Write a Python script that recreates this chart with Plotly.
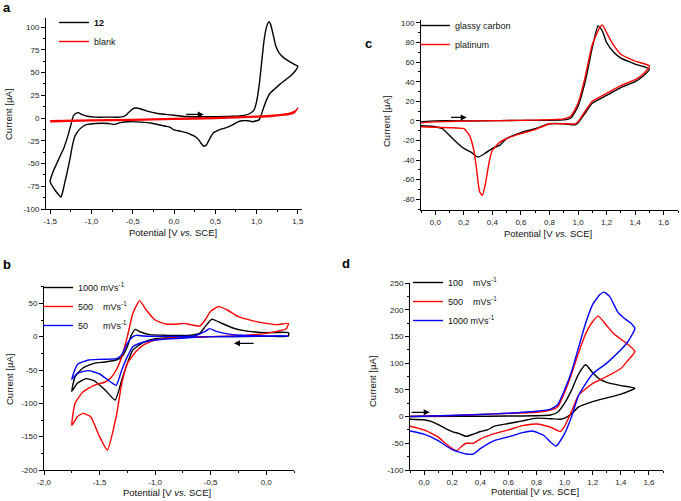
import plotly.graph_objects as go

W, H = 681, 501
FONT = "Liberation Sans, Arial, sans-serif"

# ---------------- Panel a ----------------
a_x_12 = [0.1, 0.3, 0.5, 0.7, 0.85, 0.92, 0.97, 1.0, 1.03, 1.06, 1.09, 1.12, 1.15, 1.17, 1.2, 1.23, 1.27, 1.32, 1.4, 1.46, 1.5,
          1.47, 1.42, 1.35, 1.28, 1.22, 1.16, 1.12, 1.08, 1.05, 1.03, 1.0, 0.95, 0.9, 0.83, 0.78, 0.72, 0.65, 0.58, 0.52, 0.48,
          0.45, 0.42, 0.39, 0.36, 0.33, 0.3, 0.25, 0.2, 0.15, 0.1, 0.05, 0.0, -0.05, -0.1, -0.15, -0.25, -0.4, -0.55, -0.65,
          -0.72, -0.8, -0.95, -1.05, -1.1, -1.15, -1.2, -1.23, -1.26, -1.29, -1.32, -1.35, -1.37, -1.4, -1.45, -1.5,
          -1.46, -1.42, -1.38, -1.33, -1.28, -1.25, -1.22, -1.19, -1.16, -1.12, -1.05, -0.95, -0.8, -0.65, -0.6, -0.55, -0.5,
          -0.46, -0.4, -0.3, -0.2, -0.1, 0.0, 0.1]
a_y_12 = [2, 1.5, 1.5, 2, 3, 5, 9, 18, 35, 60, 85, 100, 106, 103, 92, 80, 72, 67, 62, 59, 57,
          52, 47, 42, 37, 32, 27, 20, 10, 2, -2, -3, -4, -3, -3, -4, -7, -10, -12, -14, -16,
          -20, -25, -30, -31, -28, -24, -20, -18, -16, -15, -14, -13, -10, -9, -8, -6, -4.5, -4, -5,
          -7, -6, -6, -7, -9, -13, -20, -30, -45, -58, -70, -82, -87, -84, -78, -70,
          -58, -50, -42, -32, -18, -8, 2, 5, 6, 4, 2, 1, 1, 1, 2, 6, 10,
          11, 10, 7, 5, 4, 3, 2]
a_x_blank = [-1.5, -1.0, -0.5, 0.0, 0.5, 1.0, 1.2, 1.35, 1.42, 1.47, 1.5, 1.46, 1.4, 1.2, 1.0, 0.5, 0.0, -0.5, -1.0, -1.5]
a_y_blank = [-3, -2, -1.5, -0.5, 0.5, 2, 3, 4.5, 6, 8, 11, 6, 4, 2, 1, -0.5, -1.5, -2.5, -3, -4]

# ---------------- Panel c ----------------
c_x_gc = [-0.1, 0.0, 0.3, 0.6, 0.9, 0.95, 1.0, 1.05, 1.1, 1.14, 1.17, 1.2, 1.25, 1.3, 1.4, 1.5,
          1.45, 1.4, 1.3, 1.2, 1.1, 1.05, 1.0, 0.98, 0.9, 0.8, 0.7, 0.6, 0.5, 0.45, 0.4, 0.35, 0.3,
          0.25, 0.2, 0.15, 0.1, 0.05, 0.0, -0.1]
c_y_gc = [-1, 0, 0, 0.5, 1, 3, 15, 40, 75, 97, 92, 80, 70, 64, 58, 53,
          45, 40, 34, 26, 18, 8, -2, -4, -3, -3, -8, -12, -18, -25, -28, -33, -37,
          -32, -28, -22, -15, -8, -6, -5]
c_x_pt = [-0.1, 0.0, 0.3, 0.6, 0.9, 0.95, 1.0, 1.05, 1.1, 1.15, 1.17, 1.2, 1.25, 1.3, 1.4, 1.5,
          1.45, 1.4, 1.3, 1.2, 1.1, 1.05, 1.0, 0.98, 0.9, 0.8, 0.7, 0.6, 0.5, 0.45, 0.4, 0.38, 0.35,
          0.33, 0.31, 0.29, 0.27, 0.24, 0.2, 0.1, 0.0, -0.1]
c_y_pt = [-2, -1, 0, 0.5, 2, 5, 18, 45, 78, 95, 98, 90, 77, 68, 61, 56,
          47, 42, 36, 28, 20, 10, -1, -3, -3, -3, -9, -13, -18, -22, -30, -40, -65,
          -76, -72, -50, -30, -15, -8, -7, -6.5, -6]

# ---------------- Panel b ----------------
b_x_1000 = [0.2, 0.0, -0.5, -1.0, -1.1, -1.2, -1.25, -1.3, -1.36, -1.45, -1.55, -1.62, -1.7, -1.75,
            -1.72, -1.65, -1.55, -1.45, -1.35, -1.3, -1.25, -1.22, -1.18, -1.13, -1.05, -0.9, -0.7, -0.6,
            -0.55, -0.5, -0.48, -0.4, -0.3, -0.2, -0.1, 0.0, 0.2, 0.2]
b_y_1000 = [1, 0.5, 0, -3, -8, -20, -40, -65, -95, -80, -66, -63, -70, -82,
            -60, -47, -40, -38, -35, -30, -15, 0, 11, 7, 3, 2, 2, 5,
            15, 25, 26, 20, 13, 9, 7, 6, 6, 1]
b_x_500 = [0.2, 0.18, 0.1, 0.0, -0.2, -0.5, -0.8, -1.0, -1.1, -1.17, -1.25, -1.3, -1.35, -1.43, -1.5, -1.58,
           -1.65, -1.7, -1.75, -1.72, -1.65, -1.55, -1.45, -1.4, -1.35, -1.3, -1.25, -1.2, -1.14, -1.08,
           -1.0, -0.9, -0.8, -0.74, -0.68, -0.6, -0.55, -0.5, -0.43, -0.35, -0.25, -0.1, 0.0, 0.1, 0.2]
b_y_500 = [20, 12, 8, 5, 2, 0, -1, -5, -12, -22, -40, -70, -120, -170, -150, -120,
           -115, -120, -133, -100, -83, -73, -68, -62, -50, -30, 0, 35, 54, 40,
           25, 19, 19, 20, 18, 16, 25, 38, 45, 40, 30, 23, 20, 18, 20]
b_x_50 = [0.2, -0.5, -1.0, -1.1, -1.2, -1.25, -1.3, -1.35, -1.4, -1.5, -1.6, -1.7, -1.75,
          -1.7, -1.6, -1.5, -1.35, -1.3, -1.25, -1.2, -1.17, -1.1, -0.9, -0.65, -0.55, -0.51, -0.45,
          -0.3, -0.1, 0.2]
b_y_50 = [1, 0, -5, -8, -15, -30, -50, -73, -68, -56, -51, -55, -64,
          -42, -35, -34, -33, -27, -10, 0, 2, 1, 0.5, 1, 8, 12, 8,
          3, 1.5, 1]

# ---------------- Panel d ----------------
d_x_100 = [-0.1, 0.3, 0.6, 0.9, 0.95, 1.0, 1.05, 1.1, 1.15, 1.2, 1.25, 1.3, 1.4, 1.5,
           1.4, 1.3, 1.2, 1.1, 1.05, 1.0, 0.97, 0.9, 0.8, 0.7, 0.6, 0.5, 0.45, 0.4, 0.35, 0.3,
           0.25, 0.2, 0.15, 0.1, 0.05, 0.0, -0.1]
d_y_100 = [0, 0.5, 1, 3, 8, 25, 50, 80, 97, 82, 70, 64, 58, 53,
           42, 35, 28, 18, 5, -3, -5, -4, -3, -8, -13, -18, -25, -28, -33, -37,
           -32, -28, -22, -15, -9, -6, -5]
d_x_500 = [-0.1, 0.2, 0.5, 0.8, 0.9, 0.95, 1.0, 1.05, 1.1, 1.15, 1.2, 1.24, 1.3, 1.35, 1.4, 1.45, 1.5,
           1.45, 1.4, 1.3, 1.2, 1.1, 1.05, 1.0, 0.97, 0.9, 0.8, 0.7, 0.6, 0.5, 0.4, 0.35, 0.3, 0.27,
           0.23, 0.15, 0.1, 0.0, -0.1]
d_y_500 = [0, 2, 5, 8, 12, 18, 45, 80, 120, 155, 178, 188, 170, 155, 145, 135, 122,
           105, 90, 75, 62, 40, 10, -18, -28, -20, -14, -17, -25, -32, -42, -50, -50, -55,
           -64, -50, -38, -25, -18]
d_x_1000 = [-0.1, 0.2, 0.5, 0.8, 0.9, 0.95, 1.0, 1.05, 1.1, 1.15, 1.2, 1.25, 1.28, 1.32, 1.38, 1.42, 1.47, 1.5,
            1.45, 1.4, 1.3, 1.2, 1.1, 1.05, 1.0, 0.94, 0.9, 0.85, 0.77, 0.7, 0.6, 0.5, 0.4, 0.35, 0.3,
            0.2, 0.1, 0.0, -0.1]
d_y_1000 = [0, 2, 5, 10, 14, 22, 50, 85, 130, 175, 210, 228, 233, 225, 195, 185, 175, 165,
            140, 125, 100, 80, 40, 0, -32, -55, -48, -35, -27, -30, -38, -45, -60, -70, -70,
            -62, -45, -33, -27]

# ---------------- Ticks ----------------
a_xtv = [-1.5, -1.0, -0.5, 0.0, 0.5, 1.0, 1.5]
a_xtt = ["-1,5", "-1,0", "-0,5", "0,0", "0,5", "1,0", "1,5"]
a_ytv = [-100, -75, -50, -25, 0, 25, 50, 75, 100]
a_ytt = ["-100", "-75", "-50", "-25", "0", "25", "50", "75", "100"]
c_xtv = [0.0, 0.2, 0.4, 0.6, 0.8, 1.0, 1.2, 1.4, 1.6]
c_xtt = ["0,0", "0,2", "0,4", "0,6", "0,8", "1,0", "1,2", "1,4", "1,6"]
c_ytv = [-80, -60, -40, -20, 0, 20, 40, 60, 80, 100]
c_ytt = ["-80", "-60", "-40", "-20", "0", "20", "40", "60", "80", "100"]
b_xtv = [-2.0, -1.5, -1.0, -0.5, 0.0]
b_xtt = ["-2,0", "-1,5", "-1,0", "-0,5", "0,0"]
b_ytv = [-200, -150, -100, -50, 0, 50]
b_ytt = ["-200", "-150", "-100", "-50", "0", "50"]
d_xtv = c_xtv
d_xtt = c_xtt
d_ytv = [-100, -50, 0, 50, 100, 150, 200, 250]
d_ytt = ["-100", "-50", "0", "50", "100", "150", "200", "250"]

names_a = ["<b>12</b>", "blank"]
names_c = ["glassy carbon", "platinum"]
names_b = ["1000 mVs<sup>-1</sup>", "500\u00a0\u00a0\u00a0 mVs<sup>-1</sup>", "50\u00a0\u00a0\u00a0\u00a0\u00a0 mVs<sup>-1</sup>"]
names_d = ["100\u00a0\u00a0\u00a0 mVs<sup>-1</sup>", "500\u00a0\u00a0\u00a0 mVs<sup>-1</sup>", "1000 mVs<sup>-1</sup>"]

BLACK, RED, BLUE = "#000000", "#ff0000", "#0000ff"
LW = 1.4

fig = go.Figure()


def add(x, y, color, name, ax, leg):
    fig.add_trace(go.Scatter(x=x, y=y, mode="lines",
                             line=dict(color=color, width=LW, shape="spline", smoothing=0.5),
                             name=name, xaxis="x" + ax, yaxis="y" + ax, legend=leg))


add(a_x_12, a_y_12, BLACK, names_a[0], "", "legend")
add(a_x_blank, a_y_blank, RED, names_a[1], "", "legend")
add(c_x_gc, c_y_gc, BLACK, names_c[0], "2", "legend2")
add(c_x_pt, c_y_pt, RED, names_c[1], "2", "legend2")
add(b_x_1000, b_y_1000, BLACK, names_b[0], "3", "legend3")
add(b_x_500, b_y_500, RED, names_b[1], "3", "legend3")
add(b_x_50, b_y_50, BLUE, names_b[2], "3", "legend3")
add(d_x_100, d_y_100, BLACK, names_d[0], "4", "legend4")
add(d_x_500, d_y_500, RED, names_d[1], "4", "legend4")
add(d_x_1000, d_y_1000, BLUE, names_d[2], "4", "legend4")


def dx(l, r):
    return [l / W, r / W]


def dy(t, b):
    return [1 - b / H, 1 - t / H]


def axis(domain, rng, tv, tt, mdt, m0, anchor):
    return dict(domain=domain, range=rng, tickmode="array", tickvals=tv, ticktext=tt,
                ticks="outside", ticklen=4, tickwidth=1, tickcolor="#000",
                showline=True, linecolor="#000", linewidth=1, mirror=False,
                showgrid=False, zeroline=False, automargin=False, anchor=anchor,
                tickfont=dict(size=8, color="#222", family=FONT),
                minor=dict(ticks="outside", ticklen=2, tickwidth=1, tickcolor="#000",
                           tickmode="linear", dtick=mdt, tick0=m0, showgrid=False))


def legend(xp, yp):
    return dict(x=xp / W, y=1 - yp / H, xanchor="left", yanchor="top", bgcolor="rgba(0,0,0,0)",
                borderwidth=0, font=dict(size=9, color="#111", family=FONT), itemwidth=30,
                tracegroupgap=0)


fig.update_layout(
    width=W, height=H, margin=dict(l=0, r=0, t=0, b=0),
    paper_bgcolor="white", plot_bgcolor="white",
    font=dict(family=FONT, color="#111"),
    showlegend=True,
    xaxis=axis(dx(46, 302), [-1.55, 1.55], a_xtv, a_xtt, 0.25, 0, "y"),
    yaxis=axis(dy(18, 209), [-100, 110], a_ytv, a_ytt, 12.5, 0, "x"),
    xaxis2=axis(dx(421, 678), [-0.1, 1.7], c_xtv, c_xtt, 0.1, 0, "y2"),
    yaxis2=axis(dy(20, 210), [-91, 103], c_ytv, c_ytt, 10, 0, "x2"),
    xaxis3=axis(dx(44, 294), [-2.0, 0.25], b_xtv, b_xtt, 0.25, 0, "y3"),
    yaxis3=axis(dy(286, 470), [-200, 76], b_ytv, b_ytt, 25, 0, "x3"),
    xaxis4=axis(dx(410, 663), [-0.1, 1.7], d_xtv, d_xtt, 0.1, 0, "y4"),
    yaxis4=axis(dy(283, 470), [-100, 250], d_ytv, d_ytt, 25, 0, "x4"),
    legend=legend(54, 8),
    legend2=legend(415, 11),
    legend3=legend(38, 273),
    legend4=legend(408, 268),
)

ann = []
# axis titles
xt = "Potential [V <i>vs.</i> SCE]"
yt = "Current [µA]"
for (xc, yc) in [(173, 232), (548, 233), (167, 492), (535, 491)]:
    ann.append(dict(text=xt, x=xc / W, y=1 - yc / H, xref="paper", yref="paper", showarrow=False,
                    xanchor="center", yanchor="middle", font=dict(size=9.5, color="#111")))
for (xc, yc) in [(9, 115), (386, 122), (9, 380), (372, 382)]:
    ann.append(dict(text=yt, x=xc / W, y=1 - yc / H, xref="paper", yref="paper", showarrow=False,
                    textangle=-90, xanchor="center", yanchor="middle", font=dict(size=9.5, color="#111")))
# panel labels
for (lab, xc, yc) in [("a", 7, 8), ("c", 368, 43), ("b", 7, 264), ("d", 346, 263)]:
    ann.append(dict(text="<b>" + lab + "</b>", x=xc / W, y=1 - yc / H, xref="paper", yref="paper",
                    showarrow=False, xanchor="center", yanchor="middle", font=dict(size=13, color="#000")))
# scan direction arrows
for (axn, x0, x1, yv) in [("", 0.13, 0.36, 4), ("2", 0.1, 0.22, 3.5), ("3", -0.1, -0.29, -10), ("4", -0.1, 0.04, 8)]:
    ann.append(dict(text="", x=x1, y=yv, ax=x0, ay=yv, xref="x" + axn, yref="y" + axn,
                    axref="x" + axn, ayref="y" + axn, showarrow=True, arrowhead=2, arrowsize=1,
                    arrowwidth=1.2, arrowcolor="#000"))
fig.update_layout(annotations=ann)

fig.write_html("out.html", config={"displayModeBar": False},
               post_script="document.body.style.margin='0px';document.body.style.overflow='hidden';")
